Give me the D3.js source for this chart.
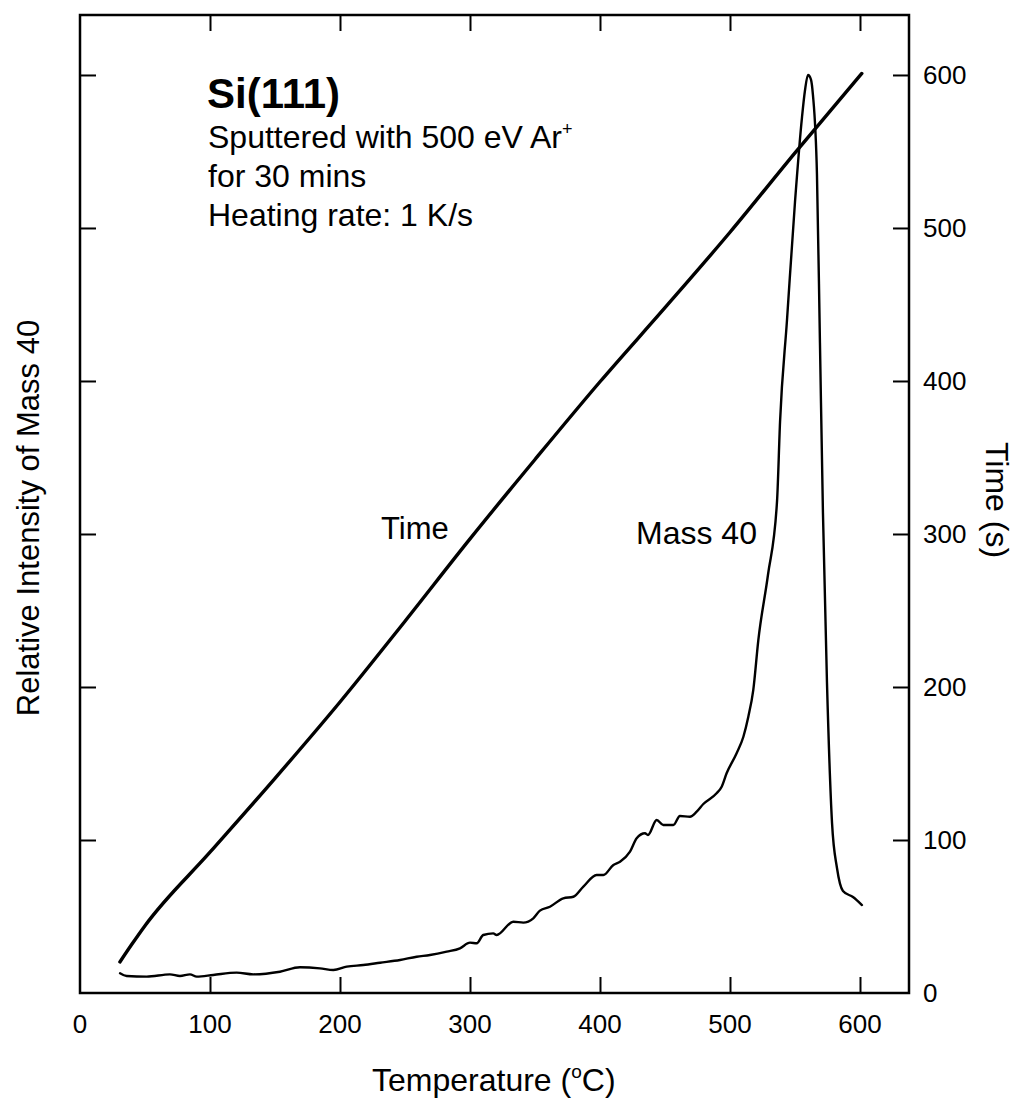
<!DOCTYPE html>
<html>
<head>
<meta charset="utf-8">
<script src="https://cdn.jsdelivr.net/npm/d3@7"></script>
<style>
  html, body { margin: 0; padding: 0; background: #fff; }
  svg text { font-family: "Liberation Sans", Arial, Helvetica, sans-serif; fill: #000; }
</style>
</head>
<body>
<svg id="chart" width="1017" height="1102"></svg>
<script>
// ---- data ----
const tempTicks = [0, 100, 200, 300, 400, 500, 600];
const timeTicks = [0, 100, 200, 300, 400, 500, 600];

// Time (s) vs temperature (°C)
const timeTemp = [30.7, 40, 50, 100, 150, 200, 250, 300, 350, 400, 450, 500, 550, 601.4];
const timeVals = [20.3, 32, 44, 92, 140.3, 190.2, 243, 296.8, 348.7, 399.5, 447.9, 497.2, 549.1, 601];

// Relative intensity of mass 40 (arbitrary units) vs temperature (°C)
const massTemp = [30.8, 35.9, 51.3, 69.2, 76.9, 84.6, 89.8, 102.5, 120.5, 133.3, 153.8, 169.2, 184.6, 194.9, 205.2, 217.9, 230.8, 246.2, 259, 269.2, 282.1, 292.3, 300, 305.2, 310.2, 317.9, 320.5, 333.3, 341, 348.7, 353.8, 361.5, 371.8, 379.5, 387.2, 397.4, 402.6, 410.3, 415.4, 423.1, 428.2, 434.6, 436.9, 443.6, 448.7, 456.4, 461.5, 469.2, 474.4, 479.5, 489.7, 493.6, 497.4, 505.1, 510.3, 514.1, 517.9, 521.8, 529.2, 536.2, 538.5, 543.8, 550, 555.4, 557.7, 560, 562.3, 563.8, 566.9, 569.2, 571.5, 574.6, 578.5, 582.3, 586.9, 594.6, 601.5];
const massVals = [12.9, 11.1, 10.7, 12.2, 11.1, 12.2, 10.7, 11.8, 13.3, 12.2, 13.9, 16.8, 16.1, 15.0, 17.2, 18.3, 19.8, 21.6, 23.7, 24.8, 27.0, 29.2, 32.9, 32.5, 37.9, 39.0, 37.9, 46.6, 46.0, 48.8, 53.8, 56.4, 61.9, 62.9, 69.5, 77.1, 77.1, 83.7, 85.8, 92.4, 101.1, 104.4, 103.3, 113.1, 109.8, 109.8, 115.7, 115.2, 118.5, 123.5, 130.5, 134.8, 143.6, 156.7, 167.5, 180.6, 198, 230.7, 273.2, 321.6, 373.2, 439.2, 517, 572.5, 590, 600, 597, 587, 535, 425, 314, 203, 111, 81.7, 66.7, 62.7, 57.5];

// ---- layout ----
const svg = d3.select("#chart");
const L = 80, R = 909, T = 15, B = 993;

const x = d3.scaleLinear().domain([0, 637.7]).range([L, R]);
const yTime = d3.scaleLinear().domain([0, 639.2]).range([B, T]);
const yMass = d3.scaleLinear().domain([0, 639.2]).range([B, T]);

const tickLen = 16;

// frame
svg.append("rect")
  .attr("x", L).attr("y", T).attr("width", R - L).attr("height", B - T)
  .attr("fill", "none").attr("stroke", "#000").attr("stroke-width", 2.5);

// bottom axis (ticks inward)
const axB = svg.append("g").attr("transform", `translate(0,${B})`)
  .call(d3.axisBottom(x).tickValues(tempTicks.filter(d => d > 0)).tickSize(-tickLen).tickFormat(""));
axB.select(".domain").remove();
axB.selectAll(".tick line").attr("stroke", "#000").attr("stroke-width", 2);
svg.append("g").selectAll("text").data(tempTicks).join("text")
  .attr("x", d => x(d)).attr("y", 1033)
  .attr("text-anchor", "middle").attr("font-size", 26)
  .text(d => d);

// top axis (ticks inward)
const axT = svg.append("g").attr("transform", `translate(0,${T})`)
  .call(d3.axisTop(x).tickValues(tempTicks.filter(d => d > 0)).tickSize(-tickLen).tickFormat(""));
axT.select(".domain").remove();
axT.selectAll(".tick line").attr("stroke", "#000").attr("stroke-width", 2);

// left axis (ticks inward, no labels)
const axL = svg.append("g").attr("transform", `translate(${L},0)`)
  .call(d3.axisLeft(yMass).tickValues(timeTicks.filter(d => d > 0)).tickSize(-tickLen).tickFormat(""));
axL.select(".domain").remove();
axL.selectAll(".tick line").attr("stroke", "#000").attr("stroke-width", 2);

// right axis (ticks inward, labels outside)
const axR = svg.append("g").attr("transform", `translate(${R},0)`)
  .call(d3.axisRight(yTime).tickValues(timeTicks.filter(d => d > 0)).tickSize(-tickLen).tickFormat(""));
axR.select(".domain").remove();
axR.selectAll(".tick line").attr("stroke", "#000").attr("stroke-width", 2);
svg.append("g").selectAll("text").data(timeTicks).join("text")
  .attr("x", 923).attr("y", d => yTime(d))
  .attr("dy", "0.36em").attr("font-size", 26)
  .text(d => d);

// curves
const lineTime = d3.line().x(d => x(d[0])).y(d => yTime(d[1])).curve(d3.curveMonotoneX);
const lineMass = d3.line().x(d => x(d[0])).y(d => yMass(d[1])).curve(d3.curveMonotoneX);

svg.append("path")
  .datum(timeTemp.map((t, i) => [t, timeVals[i]]))
  .attr("d", lineTime).attr("fill", "none").attr("stroke", "#000")
  .attr("stroke-width", 3.4).attr("stroke-linejoin", "round").attr("stroke-linecap", "round");

svg.append("path")
  .datum(massTemp.map((t, i) => [t, massVals[i]]))
  .attr("d", lineMass).attr("fill", "none").attr("stroke", "#000")
  .attr("stroke-width", 2.4).attr("stroke-linejoin", "round").attr("stroke-linecap", "round");

// annotations
svg.append("text").attr("x", 207).attr("y", 108)
  .attr("font-size", 42).attr("font-weight", "bold").text("Si(111)");

const ann = svg.append("text").attr("font-size", 32);
const l1 = ann.append("tspan").attr("x", 208).attr("y", 148);
l1.append("tspan").text("Sputtered with 500 eV Ar");
l1.append("tspan").attr("font-size", 18).attr("dy", -13).text("+");
ann.append("tspan").attr("x", 208).attr("y", 187).text("for 30 mins");
ann.append("tspan").attr("x", 208).attr("y", 226).text("Heating rate: 1 K/s");

svg.append("text").attr("x", 381).attr("y", 539).attr("font-size", 31).text("Time");
svg.append("text").attr("x", 636).attr("y", 544).attr("font-size", 32).text("Mass 40");

// axis titles
const xt = svg.append("text").attr("x", 372).attr("y", 1091).attr("font-size", 32);
xt.append("tspan").text("Temperature (");
xt.append("tspan").attr("font-size", 19).attr("dy", -13).text("o");
xt.append("tspan").attr("dy", 13).text("C)");

svg.append("text")
  .attr("transform", "translate(39,518) rotate(-90)")
  .attr("text-anchor", "middle").attr("font-size", 31)
  .text("Relative Intensity of Mass 40");

svg.append("text")
  .attr("transform", "translate(986,500) rotate(90)")
  .attr("text-anchor", "middle").attr("font-size", 32)
  .text("Time (s)");
</script>
</body>
</html>
